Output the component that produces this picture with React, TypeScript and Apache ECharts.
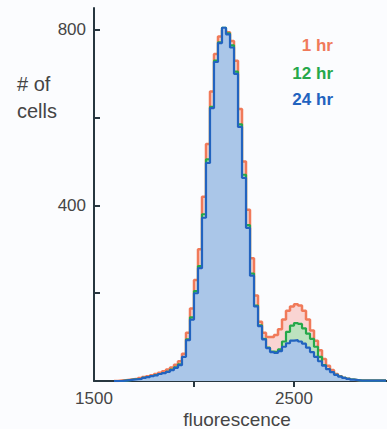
import React, { useEffect, useRef } from "react";
import * as echarts from "echarts";

// Histogram bin start values (fluorescence), bin width 20
const binStarts = [
  1600, 1620, 1640, 1660, 1680, 1700, 1720, 1740, 1760, 1780,
  1800, 1820, 1840, 1860, 1880, 1900, 1920, 1940, 1960, 1980,
  2000, 2020, 2040, 2060, 2080, 2100, 2120, 2140, 2160, 2180,
  2200, 2220, 2240, 2260, 2280, 2300, 2320, 2340, 2360, 2380,
  2400, 2420, 2440, 2460, 2480, 2500, 2520, 2540, 2560, 2580,
  2600, 2620, 2640, 2660, 2680, 2700, 2720, 2740, 2760, 2780,
  2800, 2820, 2840, 2860, 2880, 2900, 2920, 2940, 2960,
];

const counts1hr = [
  0, 1, 2, 3, 4, 5, 7, 9, 11, 13,
  16, 19, 22, 26, 31, 37, 45, 62, 110, 165,
  230, 300, 420, 540, 660, 745, 785, 800, 795, 775,
  730, 620, 500, 390, 280, 195, 135, 110, 100, 100,
  105, 118, 140, 160, 170, 175, 172, 160, 140, 115,
  92, 70, 50, 35, 25, 16, 11, 7, 5, 3,
  2, 1, 1, 1, 1, 1, 1, 1, 1,
];

const counts12hr = [
  0, 0, 1, 2, 3, 4, 5, 7, 9, 11,
  13, 16, 18, 21, 26, 31, 38, 52, 95, 145,
  205, 262, 380, 505, 625, 730, 772, 805, 792, 765,
  705, 585, 470, 355, 245, 172, 127, 96, 76, 67,
  66, 72, 90, 112, 126, 132, 130, 120, 108, 96,
  78, 55, 36, 27, 20, 14, 10, 7, 5, 3,
  2, 1, 1, 1, 1, 1, 1, 1, 1,
];

const counts24hr = [
  0, 0, 1, 2, 3, 4, 5, 7, 9, 11,
  13, 16, 18, 21, 25, 30, 36, 55, 93, 140,
  200, 257, 372, 497, 622, 727, 770, 805, 790, 760,
  700, 579, 463, 349, 240, 170, 125, 95, 75, 66,
  64, 68, 78, 86, 92, 93, 90, 85, 76, 66,
  55, 45, 35, 27, 20, 14, 10, 7, 5, 3,
  2, 1, 1, 1, 1, 1, 1, 1, 1,
];

const seriesNames = ["1 hr", "12 hr", "24 hr"];
const yTickValues = [200, 400, 600, 800];
const yLabelValues = [400, 800];
const xTickValues = [2000, 2500];
const xLabelValues = [1500, 2500];

const lineColors = ["#f07a5a", "#25a84a", "#2263bf"];
const fillColors = ["#f9d4d2", "#bde2bf", "#aac6e8"];

const toPairs = (ys: number[]) => binStarts.map((x, i) => [x, ys[i]]);

export default function App() {
  const ref = useRef<HTMLDivElement>(null);
  useEffect(() => {
    if (!ref.current) return;
    const chart = echarts.init(ref.current, null, { renderer: "svg" });
    const all = [counts1hr, counts12hr, counts24hr];
    const font = "Liberation Sans, Arial, sans-serif";
    chart.setOption({
      animation: false,
      backgroundColor: "#fbfcfe",
      grid: { left: 94, right: 0, top: 8, bottom: 48 },
      xAxis: {
        type: "value",
        min: 1500,
        max: 2965,
        interval: 500,
        splitLine: { show: false },
        axisLine: { lineStyle: { color: "#27363f", width: 2 } },
        axisTick: {
          show: true,
          length: 6,
          customValues: xTickValues,
          lineStyle: { color: "#27363f", width: 2 },
        },
        axisLabel: {
          customValues: xLabelValues,
          formatter: (v: number) => String(v),
          fontSize: 17,
          color: "#454545",
          fontFamily: font,
          margin: 9,
        },
      },
      yAxis: {
        type: "value",
        min: 0,
        max: 850,
        interval: 200,
        splitLine: { show: false },
        axisLine: { show: true, lineStyle: { color: "#27363f", width: 2 } },
        axisTick: {
          show: true,
          inside: true,
          length: 6,
          customValues: yTickValues,
          lineStyle: { color: "#27363f", width: 2 },
        },
        axisLabel: {
          customValues: yLabelValues,
          formatter: (v: number) => String(v),
          fontSize: 17,
          color: "#454545",
          fontFamily: font,
          margin: 8,
        },
      },
      series: all.map((ys, i) => ({
        name: seriesNames[i],
        type: "line",
        step: "end",
        symbol: "none",
        data: toPairs(ys),
        z: 2 + i,
        lineStyle: { color: lineColors[i], width: i === 0 ? 2.5 : 2.2 },
        areaStyle: { color: fillColors[i], opacity: 1 },
      })),
      graphic: [
        {
          type: "text",
          left: 17,
          top: 70,
          style: {
            text: "# of\ncells",
            fontSize: 20,
            lineHeight: 27,
            fill: "#454545",
            fontFamily: font,
          },
        },
        {
          type: "text",
          x: 237,
          y: 419,
          style: {
            text: "fluorescence",
            fontSize: 19,
            fill: "#454545",
            fontFamily: font,
            align: "center",
            verticalAlign: "middle",
          },
        },
        ...seriesNames.map((n, i) => ({
          type: "text",
          x: 333,
          y: [45, 73, 99][i],
          style: {
            text: n,
            fontSize: 17,
            fontWeight: "bold",
            fill: lineColors[i],
            fontFamily: font,
            align: "right",
            verticalAlign: "middle",
          },
        })),
      ],
    });
    return () => chart.dispose();
  }, []);
  return (
    <div
      ref={ref}
      style={{ position: "fixed", left: 0, top: 0, width: 387, height: 429 }}
    />
  );
}
